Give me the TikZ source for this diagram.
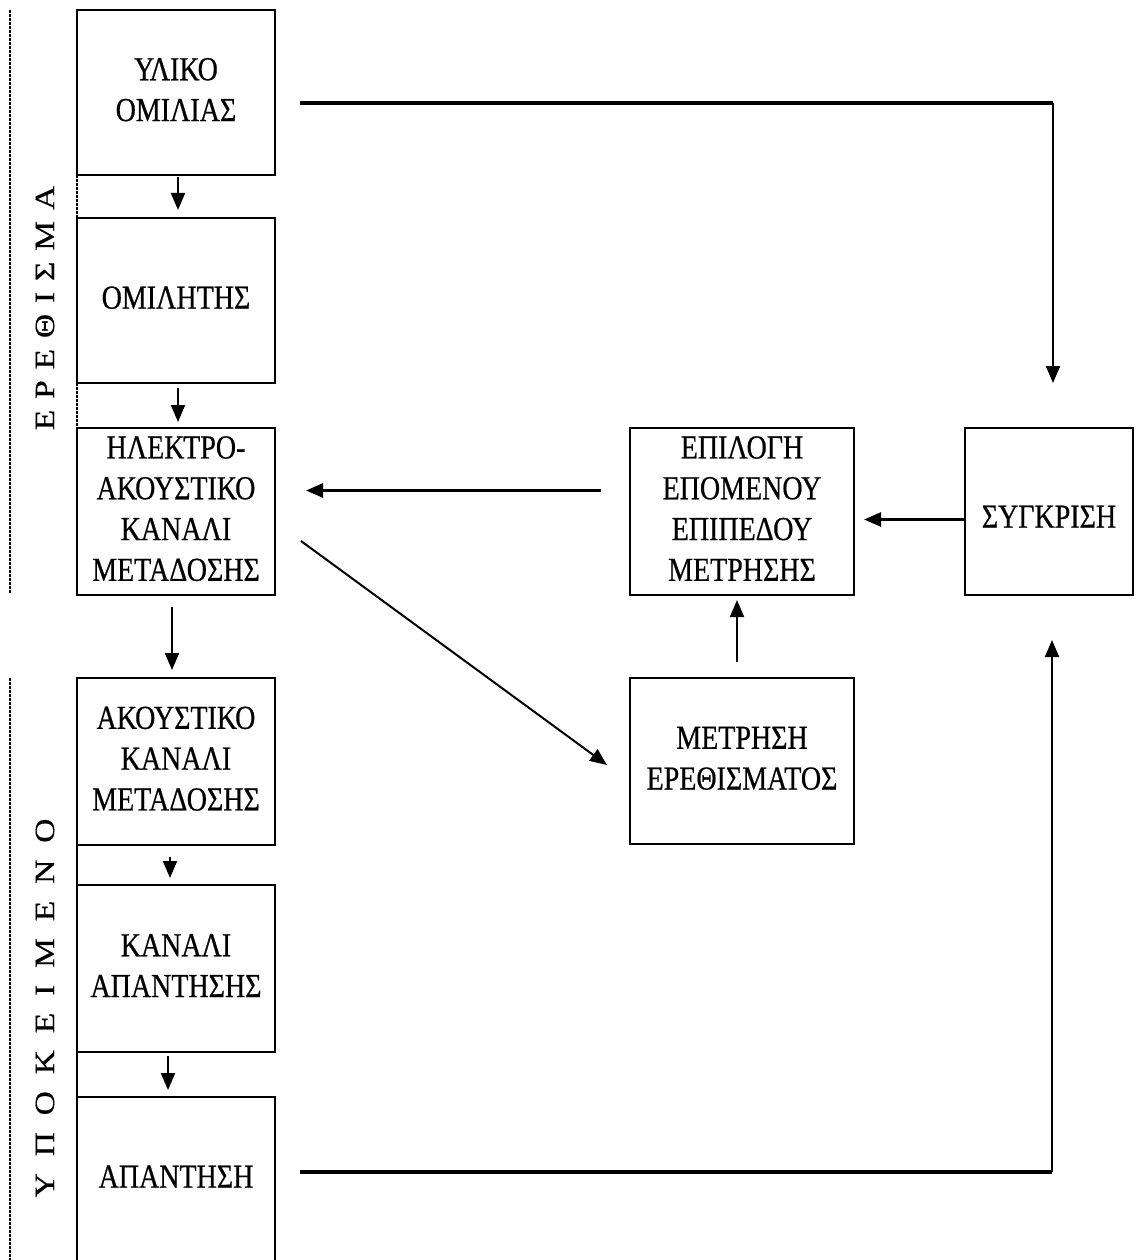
\documentclass[tikz,border=0pt]{standalone}
\usepackage{fontspec}
\setmainfont{Liberation Serif}
\usepackage{graphicx}
\usetikzlibrary{arrows.meta,calc}
\newcommand\tx[1]{\scalebox{1}[1.2]{\fontsize{28}{34}\selectfont\addfontfeature{FakeBold=0.6}\begin{tabular}{@{}c@{}}#1\end{tabular}}}
\newcommand\vl[1]{\scalebox{1.2}[1]{\fontsize{28}{34}\selectfont\addfontfeature{FakeBold=0.4}#1}}
\begin{document}
\begin{tikzpicture}[x=1pt,y=-1pt,
  box/.style={draw,line width=1.6pt,outer sep=0pt,inner sep=0pt,minimum width=198pt,minimum height=165pt},
  arr/.style={line width=2pt,-{Triangle[length=17pt,width=14pt]}},
  heavy/.style={line width=3.4pt},
  dotline/.style={line width=2.4pt,dash pattern=on 3pt off 1pt}]
\useasboundingbox (0,0) rectangle (1135,1260);
\clip (0,0) rectangle (1135,1260);
% left column
\node[box] (b1) at (176,92.5) {\tx{ΥΛΙΚΟ\\ΟΜΙΛΙΑΣ}};
\node[box] (b2) at (176,300.5) {\tx{ΟΜΙΛΗΤΗΣ}};
\node[box,minimum height=167pt] (b3) at (176,511.5) {\tx{ΗΛΕΚΤΡΟ-\\ΑΚΟΥΣΤΙΚΟ\\ΚΑΝΑΛΙ\\ΜΕΤΑΔΟΣΗΣ}};
\node[box,minimum height=167pt] (b4) at (176,761.5) {\tx{ΑΚΟΥΣΤΙΚΟ\\ΚΑΝΑΛΙ\\ΜΕΤΑΔΟΣΗΣ}};
\node[box,minimum height=167pt] (b5) at (176,968.5) {\tx{ΚΑΝΑΛΙ\\ΑΠΑΝΤΗΣΗΣ}};
\node[box] (b6) at (176,1179.5) {\tx{ΑΠΑΝΤΗΣΗ}};
% right part
\node[box,minimum width=224pt,minimum height=167pt] (ep) at (742,511.5) {\tx{ΕΠΙΛΟΓΗ\\ΕΠΟΜΕΝΟΥ\\ΕΠΙΠΕΔΟΥ\\ΜΕΤΡΗΣΗΣ}};
\node[box,minimum width=168pt,minimum height=167pt] (sy) at (1049,511.5) {\raisebox{-8pt}[\height][\depth]{\tx{ΣΥΓΚΡΙΣΗ}}};
\node[box,minimum width=224pt,minimum height=166pt] (me) at (742,761) {\tx{ΜΕΤΡΗΣΗ\\ΕΡΕΘΙΣΜΑΤΟΣ}};
% side labels
\node[rotate=90] (l1) at (45,308) {\vl{Ε\hspace{9pt}Ρ\hspace{9pt}Ε\hspace{9pt}Θ\hspace{9pt}Ι\hspace{9pt}Σ\hspace{9pt}Μ\hspace{9pt}Α}};
\node[rotate=90] (l2) at (45,1008) {\vl{Υ\hspace{14pt}Π\hspace{14pt}Ο\hspace{14pt}Κ\hspace{14pt}Ε\hspace{14pt}Ι\hspace{14pt}Μ\hspace{14pt}Ε\hspace{14pt}Ν\hspace{14pt}Ο}};
\draw[dotline] (10,10) -- (10,593);
\draw[dotline] (10,678) -- (10,1260);
\draw[dotline] (b1.south west) -- (b2.north west);
\draw[dotline] (b2.south west) -- (b3.north west);
\draw[line width=1.6pt] (b4.south west) -- (b5.north west);
\draw[line width=1.6pt] (b5.south west) -- (b6.north west);
% left column arrows
\draw[arr,shorten <=2pt,shorten >=8pt] ([xshift=2pt]b1.south) -- ([xshift=2pt]b2.north);
\draw[arr,shorten <=5pt,shorten >=6pt] ([xshift=2pt]b2.south) -- ([xshift=2pt]b3.north);
\draw[arr,shorten <=12pt,shorten >=8pt] ([xshift=-4pt]b3.south) -- ([xshift=-4pt]b4.north);
\draw[arr,shorten <=12pt,shorten >=7pt] ([xshift=-6pt]b4.south) -- ([xshift=-6pt]b5.north);
\draw[arr,shorten <=4pt,shorten >=7pt] ([xshift=-8pt]b5.south) -- ([xshift=-8pt]b6.north);
% right arrows
\draw[arr,line width=2.6pt,shorten <=29pt,shorten >=31pt] ([yshift=21pt]ep.west) -- ([yshift=21pt]b3.east);
\draw[arr,line width=2.6pt,shorten >=10pt] ([yshift=-8pt]sy.west) -- ([yshift=-8pt]ep.east);
\draw[arr,shorten <=16pt,shorten >=5pt] ([xshift=-5pt]me.north) -- ([xshift=-5pt]ep.south);
\draw[arr] ($(b3.east)+(26,29.5)$) -- ($(me.west)+(-23,4)$);
% feedback loops
\coordinate (tr) at (1053,103);
\coordinate (br) at (1052,1172);
\draw[heavy] ($(b1.east)+(25,10.5)$) -- (tr);
\draw[arr,shorten >=45pt] (tr) -- (tr |- sy.north);
\draw[heavy] ($(b6.east)+(25,-7.5)$) -- (br);
\draw[arr,shorten >=45pt] (br) -- (br |- sy.south);
\end{tikzpicture}
\end{document}
